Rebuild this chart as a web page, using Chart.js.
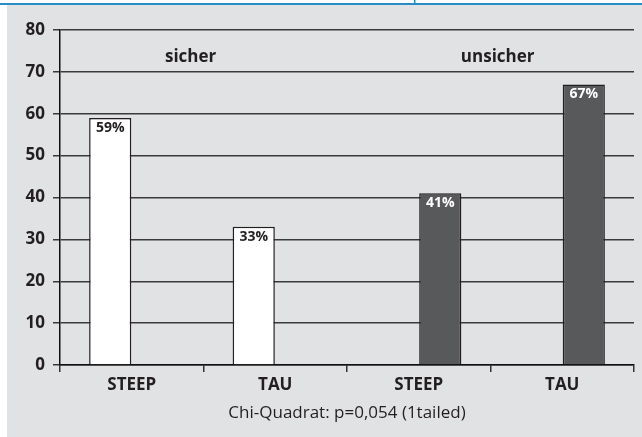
<!DOCTYPE html>
<html>
<head>
<meta charset="utf-8">
<script src="https://cdn.jsdelivr.net/npm/chart.js@4.4.0/dist/chart.umd.min.js"></script>
<style>
  html, body { margin: 0; padding: 0; background: #fff; }
  #wrap { width: 642px; height: 437px; position: relative; }
</style>
</head>
<body>
<div id="wrap"><canvas id="chart" width="642" height="437"></canvas></div>
<script>
const categories = ['STEEP', 'TAU', 'STEEP', 'TAU'];
const sicherValues = [59, 33, null, null];
const unsicherValues = [null, null, 41, 67];
const groupNames = ['sicher', 'unsicher'];
const yTicks = [0, 10, 20, 30, 40, 50, 60, 70, 80];
const caption = 'Chi-Quadrat: p=0,054 (1tailed)';

const FONT = "'Open Sans', 'DejaVu Sans', sans-serif";
const INK = '#231f20';

// page frame: blue rule on top, grey panel behind the chart
const framePlugin = {
  id: 'frame',
  beforeDraw(chart) {
    const c = chart.ctx;
    c.save();
    c.fillStyle = '#ffffff';
    c.fillRect(0, 0, chart.width, chart.height);
    c.fillStyle = '#e1e2e4';
    c.fillRect(7, 5, chart.width - 7, chart.height - 5);
    c.fillStyle = '#2a8cc4';
    c.fillRect(0, 3, chart.width, 2);
    c.fillRect(414, 0, 1.5, 4);
    c.restore();
  }
};

// "sicher" / "unsicher" headings and the % labels in the bars
const labelPlugin = {
  id: 'labels',
  afterDatasetsDraw(chart) {
    const c = chart.ctx;
    const x = chart.scales.x, y = chart.scales.y;
    c.save();
    c.textAlign = 'center';
    c.textBaseline = 'middle';
    c.fillStyle = INK;
    c.font = "bold 17px " + FONT;
    c.fillText(groupNames[0], x.getPixelForValue(0.41), y.getPixelForValue(73.5));
    c.fillText(groupNames[1], x.getPixelForValue(2.55), y.getPixelForValue(73.5));

    c.font = "bold 14px " + FONT;
    c.textBaseline = 'top';
    chart.data.datasets.forEach((ds, i) => {
      chart.getDatasetMeta(i).data.forEach((bar, j) => {
        const v = ds.data[j];
        if (v == null) return;
        c.fillStyle = i === 0 ? INK : '#ffffff';
        c.fillText(v + '%', bar.x, bar.y + 3);
      });
    });
    c.restore();
  }
};

const data = {
  labels: categories,
  datasets: [
    {
      label: groupNames[0],
      data: sicherValues,
      backgroundColor: '#ffffff',
      borderColor: INK,
      borderWidth: 1.5,
      borderSkipped: 'bottom'
    },
    {
      label: groupNames[1],
      data: unsicherValues,
      backgroundColor: '#58595b',
      borderColor: INK,
      borderWidth: 1.5,
      borderSkipped: 'bottom'
    }
  ]
};

const options = {
  responsive: false,
  animation: false,
  layout: { padding: { left: 0, right: 8, top: 30, bottom: 0 } },
  datasets: { bar: { categoryPercentage: 0.6, barPercentage: 0.98 } },
  plugins: {
    legend: { display: false },
    tooltip: { enabled: false }
  },
  scales: {
    x: {
      grid: {
        offset: true,
        drawOnChartArea: false,
        drawTicks: true,
        tickLength: 7,
        color: '#333',
        lineWidth: 1.5
      },
      border: { color: '#111', width: 1.5 },
      ticks: {
        color: INK,
        padding: 3,
        font: { family: FONT, size: 17, weight: 'bold' }
      },
      title: {
        display: true,
        text: caption,
        color: INK,
        font: { family: FONT, size: 17 },
        padding: { top: 2, bottom: 14 }
      },
      afterFit(scale) { scale.height = 72; }
    },
    y: {
      min: 0,
      max: 80,
      afterBuildTicks(scale) { scale.ticks = yTicks.map(v => ({ value: v })); },
      grid: {
        color: '#3a3a3a',
        lineWidth: 1.5,
        tickLength: 7
      },
      border: { color: '#111', width: 1.5 },
      ticks: {
        color: INK,
        padding: 8,
        font: { family: FONT, size: 17, weight: 'bold' }
      },
      afterFit(scale) { scale.width = 60; }
    }
  }
};

new Chart(document.getElementById('chart').getContext('2d'), {
  type: 'bar',
  data: data,
  options: options,
  plugins: [framePlugin, labelPlugin]
});
</script>
</body>
</html>
